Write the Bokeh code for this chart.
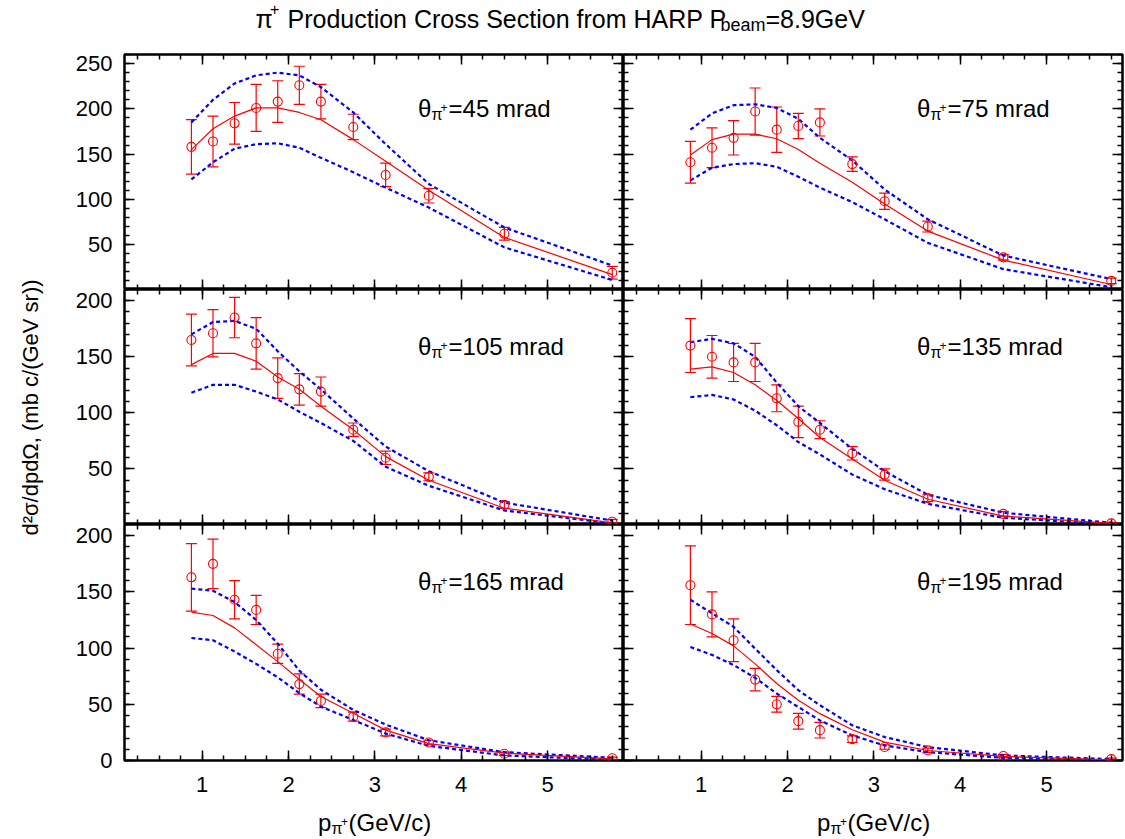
import math

from bokeh.plotting import figure
from bokeh.models import (Range1d, LinearAxis, SingleIntervalTicker,
                          ColumnDataSource, Whisker, TeeHead)
from bokeh.layouts import column, row
from bokeh.embed import file_html
from bokeh.resources import INLINE
from bokeh.core.properties import value

FONT = "Liberation Sans"
RED = "#ff0000"
BLUE = "#0000ff"

# pi+ momentum bin centres (GeV/c)
p_pi = [0.875, 1.125, 1.375, 1.625, 1.875, 2.125, 2.375, 2.75, 3.125, 3.625, 4.5, 5.75]

# production angles (mrad)
theta_mrad = [45, 75, 105, 135, 165, 195]

# HARP measurements d2sigma/dpdOmega (mb c/(GeV sr)) with total errors,
# model prediction and its upper / lower band
xsec_45 = [158, 164, 184, 201, 208, 226, 208, 180, 127, 104, 62, 19]
err_45 = [30, 28, 23, 26, 23, 21, 19, 14, 13, 8, 7, 7]
model_45 = [155, 178, 192, 201, 201, 196, 188, 166, 142, 110, 58, 17]
model_hi_45 = [185, 210, 228, 237, 240, 237, 224, 196, 161, 117, 69, 27]
model_lo_45 = [122, 141, 156, 161, 162, 157, 146, 130, 113, 91, 47, 11]

xsec_75 = [141, 157, 168, 197, 177, 181, 185, 139, 98, 70, 36, 10]
err_75 = [23, 22, 19, 26, 25, 14, 15, 8, 9, 6, 3, 3]
model_75 = [149, 166, 172, 172, 167, 155, 140, 119, 95, 65, 33, 6]
model_hi_75 = [177, 195, 204, 205, 201, 189, 168, 143, 111, 78, 38, 12]
model_lo_75 = [121, 135, 139, 140, 136, 125, 113, 97, 78, 52, 23, 3]

xsec_105 = [165, 171, 185, 162, 131, 121, 119, 85, 60, 43, 18, 3]
err_105 = [23, 21, 18, 23, 18, 14, 13, 6, 6, 3.5, 3, 2]
model_105 = [143, 153, 153, 146, 132, 121, 106, 85, 61, 40, 15, 2]
model_hi_105 = [170, 181, 182, 175, 155, 137, 121, 95, 70, 48, 20, 4]
model_lo_105 = [118, 125, 125, 119, 112, 101, 91, 75, 52, 35, 13, 1.5]

xsec_135 = [160, 150, 145, 145, 113, 92, 85, 64, 45, 24, 10, 1.5]
err_135 = [24, 19, 17, 17, 12, 14, 8, 6, 5, 3, 2, 1]
model_135 = [139, 141, 136, 125, 111, 95, 78, 59, 40, 23, 8, 1.5]
model_hi_135 = [163, 166, 162, 150, 127, 106, 91, 68, 48, 27, 11, 2]
model_lo_135 = [114, 116, 112, 102, 89, 74, 63, 45, 32, 19, 6.5, 0.6]

xsec_165 = [163, 175, 143, 134, 95, 68, 53, 39, 25, 16, 6, 2]
err_165 = [30, 22, 17, 13, 8.5, 9, 6, 4, 3, 2, 1.5, 1]
model_165 = [132, 129, 118, 103, 88, 72, 57, 42, 27, 15, 6.6, 1.5]
model_hi_165 = [153, 151, 141, 125, 104, 80, 63, 45, 32, 18, 7.4, 2.4]
model_lo_165 = [109, 107, 97, 86, 74, 60, 48, 36, 24, 13, 4.5, 0.6]

xsec_195 = [156, 130, 107, 72, 50, 35, 27, 19, 12, 9, 4, 1.2]
err_195 = [35, 20, 19, 10, 7, 7, 7, 3, 2, 2, 1.5, 1]
model_195 = [121.5, 113, 102, 86, 68.5, 53.6, 41.7, 27.4, 16.4, 8.9, 3.6, 0.6]
model_hi_195 = [143, 131, 119, 99.5, 80.4, 62.6, 49.2, 31.3, 20.9, 11.9, 4.5, 1.2]
model_lo_195 = [101, 94, 85, 73.5, 59.6, 47.6, 35.7, 22.3, 13.4, 7.4, 2.4, 0]

series = [
    (xsec_45, err_45, model_45, model_hi_45, model_lo_45),
    (xsec_75, err_75, model_75, model_hi_75, model_lo_75),
    (xsec_105, err_105, model_105, model_hi_105, model_lo_105),
    (xsec_135, err_135, model_135, model_hi_135, model_lo_135),
    (xsec_165, err_165, model_165, model_hi_165, model_lo_165),
    (xsec_195, err_195, model_195, model_hi_195, model_lo_195),
]

X_START, X_END = 0.1, 5.88
X_TICKS = [1, 2, 3, 4, 5]
Y_TICKS = [0, 50, 100, 150, 200, 250]
Y_RANGES = [(0.5, 260), (0.5, 210), (0, 210)]
LABEL_Y = [200.5, 159, 159]
FRAME_H = [235, 235, 236]
TITLE_H = 44
TOP_PAD = 10
YLABEL_W = 50
LEFT_BORDER = 124
RIGHT_PAD = 3
LEFT_W = 623
RIGHT_W = 502
TICK_FS = "22px"
BOTTOM_TICK_AREA = 42
XLABEL_H = 37


def rich_text(p, x, y, pieces):
    """Draw a run of text pieces (text, font px, dx, dy) starting at (x, y)."""
    for txt, size, dx, dy in pieces:
        p.text(x=[x], y=[y], text=[txt], x_offset=dx, y_offset=dy,
               text_font=value(FONT), text_font_size=value(f"{size}px"),
               text_baseline="alphabetic", text_align="left",
               text_color="black")


def style_axis(ax, show_labels, ticks):
    ax.major_tick_in = 10
    ax.major_tick_out = 0
    ax.minor_tick_in = 5
    ax.minor_tick_out = 0
    ax.major_tick_line_color = "black"
    ax.minor_tick_line_color = "black"
    ax.major_tick_line_width = 1.5
    ax.minor_tick_line_width = 1.5
    ax.axis_line_color = None
    if show_labels:
        ax.major_label_text_font = FONT
        ax.major_label_text_font_size = TICK_FS
        ax.major_label_text_color = "black"
    else:
        # mirrored tick marks only, no numbers
        ax.major_label_overrides = {t: "" for t in ticks}
        ax.major_label_text_color = None
        ax.major_label_standoff = 0


def blank_figure(width, height, x_range, y_range, **borders):
    f = figure(width=width, height=height, x_range=x_range, y_range=y_range,
               x_axis_location=None, y_axis_location=None,
               output_backend="svg", toolbar_location=None,
               outline_line_color=None,
               background_fill_color="white", border_fill_color="white",
               **borders)
    f.grid.grid_line_color = None
    return f


def make_panel(idx):
    r, c = divmod(idx, 2)
    left = c == 0
    top = r == 0
    bottom = r == 2
    xsec, err, model, model_hi, model_lo = series[idx]

    p = figure(width=(LEFT_W - YLABEL_W) if left else RIGHT_W,
               height=FRAME_H[r] + (BOTTOM_TICK_AREA if bottom else 0)
               + (TOP_PAD if top else 0),
               x_range=Range1d(X_START, X_END),
               y_range=Range1d(*Y_RANGES[r]),
               x_axis_location=None, y_axis_location=None,
               output_backend="svg", toolbar_location=None,
               min_border_left=(LEFT_BORDER - YLABEL_W) if left else 0,
               min_border_right=0 if left else RIGHT_PAD,
               min_border_top=TOP_PAD if top else 0,
               min_border_bottom=BOTTOM_TICK_AREA if bottom else 0,
               background_fill_color="white", border_fill_color="white",
               outline_line_color="black", outline_line_width=2.5)
    p.grid.grid_line_color = None

    xt = SingleIntervalTicker(interval=1, num_minor_ticks=4)
    yt = SingleIntervalTicker(interval=50, num_minor_ticks=5)

    xb = LinearAxis(ticker=xt)
    style_axis(xb, bottom, X_TICKS)
    if bottom:
        xb.major_label_standoff = 16
    p.add_layout(xb, "below")

    xa = LinearAxis(ticker=xt)
    style_axis(xa, False, X_TICKS)
    p.add_layout(xa, "above")

    yl = LinearAxis(ticker=yt)
    style_axis(yl, left, Y_TICKS)
    if left:
        yl.major_label_standoff = 12
    p.add_layout(yl, "left")

    yr = LinearAxis(ticker=yt)
    style_axis(yr, False, Y_TICKS)
    p.add_layout(yr, "right")

    # model band edges and central prediction
    p.line(p_pi, model_hi, line_color=BLUE, line_width=2.2, line_dash="4 3")
    p.line(p_pi, model_lo, line_color=BLUE, line_width=2.2, line_dash="4 3")
    p.line(p_pi, model, line_color=RED, line_width=1.2)

    # measurements with error bars
    src = ColumnDataSource(dict(
        x=p_pi, y=xsec,
        upper=[v + e for v, e in zip(xsec, err)],
        lower=[v - e for v, e in zip(xsec, err)],
    ))
    p.add_layout(Whisker(source=src, base="x", upper="upper", lower="lower",
                         line_color=RED, line_width=1.2,
                         upper_head=TeeHead(size=11, line_color=RED, line_width=1.2),
                         lower_head=TeeHead(size=11, line_color=RED, line_width=1.2)))
    p.scatter("x", "y", source=src, marker="circle", size=9,
              fill_color=None, line_color=RED, line_width=1.1)

    # angle label
    rich_text(p, 3.50, LABEL_Y[r], [
        ("\u03b8", 24, 0, 0),
        ("\u03c0", 16, 13.5, 6),
        ("+", 12, 22.5, -1),
        (f"={theta_mrad[idx]} mrad", 24, 30.5, 0),
    ])
    return p


panels = [make_panel(i) for i in range(6)]

total_w = LEFT_W + RIGHT_W
grid_h = TOP_PAD + sum(FRAME_H) + BOTTOM_TICK_AREA

# title strip
title = blank_figure(total_w, TITLE_H, Range1d(0, total_w), Range1d(0, TITLE_H),
                     min_border=0)
rich_text(title, 255, 26, [
    ("\u03c0", 25, 0, 0),
    ("+", 16, 14.5, -10),
    ("Production Cross Section from HARP P", 25, 32, 0),
    ("beam", 18, 465, 6),
    ("=8.9GeV", 25, 510, 0),
])

# vertical axis title shared by the three rows
ylab = blank_figure(YLABEL_W, grid_h, Range1d(0, YLABEL_W), Range1d(0, grid_h),
                    min_border=0)
ylab.text(x=[30], y=[BOTTOM_TICK_AREA + sum(FRAME_H) / 2],
          text=["d\u00b2\u03c3/dpd\u03a9, (mb c/(GeV sr))"],
          angle=math.pi / 2, text_align="center", text_baseline="middle",
          text_font=value(FONT), text_font_size=value("22px"),
          text_color="black")


def xlabel_strip(left):
    s = blank_figure(LEFT_W if left else RIGHT_W, XLABEL_H,
                     Range1d(X_START, X_END), Range1d(0, XLABEL_H),
                     min_border_left=LEFT_BORDER if left else 0,
                     min_border_right=0 if left else RIGHT_PAD,
                     min_border_top=0, min_border_bottom=0)
    rich_text(s, (X_START + X_END) / 2, 17, [
        ("p", 24, -56, 0),
        ("\u03c0", 16, -42.5, 6),
        ("+", 12, -33, -1),
        ("(GeV/c)", 24, -25.5, 0),
    ])
    return s


grid = column(
    row(panels[0], panels[1]),
    row(panels[2], panels[3]),
    row(panels[4], panels[5]),
)

layout = column(
    title,
    row(ylab, grid),
    row(xlabel_strip(True), xlabel_strip(False)),
)

open("out.html", "w").write(file_html(layout, INLINE))
